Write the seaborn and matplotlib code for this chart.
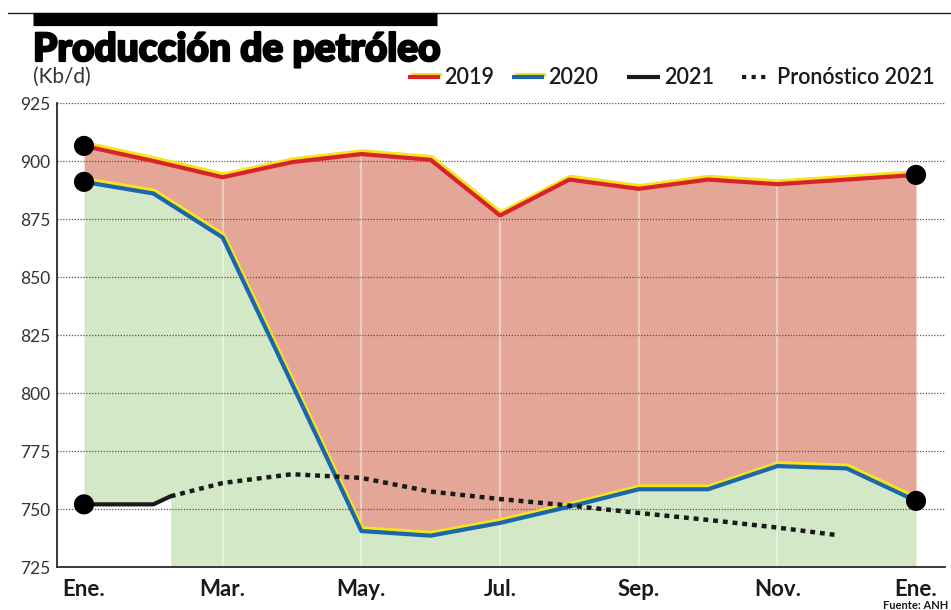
import numpy as np
import matplotlib
matplotlib.use("Agg")
import matplotlib.pyplot as plt
import matplotlib.transforms as mtrans
import matplotlib.patheffects as pe
from matplotlib.lines import Line2D
import seaborn as sns

# ---------------- data ----------------
month_labels = ["Ene.", "Mar.", "May.", "Jul.", "Sep.", "Nov.", "Ene."]
months = list(range(13))
prod_2019 = [906.5, 900.0, 893.0, 899.5, 903.0, 900.5, 876.5, 892.0, 888.0, 892.0, 890.0, 892.0, 894.0]
prod_2020 = [891.0, 886.0, 867.0, 804.0, 740.5, 738.5, 744.0, 751.0, 758.5, 758.5, 768.5, 767.5, 753.5]
months_2021 = [0, 1, 1.25]
prod_2021 = [752.0, 752.0, 755.5]
months_fc = [1.25, 2, 3, 4, 5, 6, 7, 8, 9, 10, 10.85]
forecast_2021 = [755.5, 761.2, 765.0, 763.4, 757.5, 754.3, 751.5, 748.3, 745.3, 742.0, 738.8]
yticks = [725, 750, 775, 800, 825, 850, 875, 900, 925]

# ---------------- style ----------------
sns.set_style("white")
plt.rcParams["font.family"] = ["Lato", "DejaVu Sans"]

RED = "#d8232a"
YELLOW = "#f6e41c"
BLUE = "#1b67ad"
RED_FILL = "#e4a797"
GREEN_FILL = "#d3e8c6"
GRID = "#6e4c42"
INK = "#1a1a1a"

W, H = 951, 610
fig = plt.figure(figsize=(W / 100, H / 100), dpi=100)
fig.patch.set_facecolor("white")

px_per_month = (916 - 84) / 12.0
x_left = (57 - 84) / px_per_month
x_right = 12 + (945 - 916) / px_per_month
ax = fig.add_axes([57 / W, 1 - 567 / H, (945 - 57) / W, (567 - 103) / H])
ax.set_xlim(x_left, x_right)
ax.set_ylim(725, 925)
ax.set_facecolor("none")

# ---------------- fills ----------------
m = np.array(months, dtype=float)
p19 = np.array(prod_2019)
p20 = np.array(prod_2020)
ax.fill_between(m, p20, p19, color=RED_FILL, lw=0, zorder=1)
# green area below 2020: down to the 2021 line at first, then to the axis floor
split = months_2021[-1]
xa = np.array([0, 1, split])
ya20 = np.interp(xa, m, p20)
ax.fill_between(xa, np.array(prod_2021), ya20, color=GREEN_FILL, lw=0, zorder=1)
xb = np.concatenate([[split], m[m > split]])
yb20 = np.interp(xb, m, p20)
ax.fill_between(xb, 725, yb20, color=GREEN_FILL, lw=0, zorder=1)

# faint paper creases at tick positions
for xv in [2, 4, 6, 8, 10]:
    ax.axvline(xv, color="white", lw=1.6, alpha=0.4, zorder=1.5)

# ---------------- grid ----------------
for yv in yticks[1:]:
    ax.axhline(yv, color=GRID, lw=0.9, ls=(0, (1, 1.3)), zorder=2)

# ---------------- lines ----------------
up = mtrans.offset_copy(ax.transData, fig=fig, x=0.6, y=1.8, units="points")
ax.plot(m, p19, color=YELLOW, lw=3.4, transform=up, zorder=3, solid_joinstyle="round")
ax.plot(m, p20, color=YELLOW, lw=3.4, transform=up, zorder=3, solid_joinstyle="round")
sns.lineplot(x=months, y=prod_2019, ax=ax, color=RED, lw=3.0, zorder=4, sort=False)
sns.lineplot(x=months, y=prod_2020, ax=ax, color=BLUE, lw=3.0, zorder=4, sort=False)
sns.lineplot(x=months_fc, y=forecast_2021, ax=ax, color=INK, lw=3.2,
             ls=(0, (1.1, 1.1)), zorder=5, sort=False)
sns.lineplot(x=months_2021, y=prod_2021, ax=ax, color=INK, lw=3.0, zorder=5, sort=False)

dots_x = [months[0], months[0], months_2021[0], months[-1], months[-1]]
dots_y = [prod_2019[0], prod_2020[0], prod_2021[0], prod_2019[-1], prod_2020[-1]]
sns.scatterplot(x=dots_x, y=dots_y, ax=ax, color="black", s=210, edgecolor="none", zorder=6)

# ---------------- axes ----------------
for s in ["top", "right"]:
    ax.spines[s].set_visible(False)
for s in ["left", "bottom"]:
    ax.spines[s].set_color("#2a2a2a")
    ax.spines[s].set_linewidth(1.3)
    ax.spines[s].set_zorder(7)

ax.set_xticks(range(0, 13, 2))
ax.set_xticklabels(month_labels, fontsize=16, fontweight="bold", color=INK)
ax.set_yticks(yticks)
ax.set_yticklabels([str(v) for v in yticks], fontsize=12.5, color="#333333")
ax.tick_params(axis="x", length=9, width=1.3, color="#2a2a2a", direction="out", pad=0)
ax.tick_params(axis="y", length=0, pad=5)
ax.set_xlabel("")
ax.set_ylabel("")

# ---------------- header ----------------
fig.add_artist(Line2D([8 / W, 1], [1 - 13 / H, 1 - 13 / H], color=INK, lw=1.0))
fig.add_artist(Line2D([33 / W, 437 / W], [1 - 18.5 / H, 1 - 18.5 / H], color="black",
                      lw=9.5, solid_capstyle="butt"))
fig.text(33 / W, 1 - 61 / H, "Producción de petróleo", fontsize=28, fontweight="black",
         color="black", va="baseline", ha="left",
         path_effects=[pe.withStroke(linewidth=1.6, foreground="black")])
fig.text(33 / W, 1 - 83 / H, "(Kb/d)", fontsize=15, color="#333333", va="baseline", ha="left")

# legend
ly = 1 - 77 / H
legend_items = [
    (408, 440, RED, "-", "2019", 444, True),
    (512, 544, BLUE, "-", "2020", 548, True),
    (627, 660, INK, "-", "2021", 664, False),
    (742, 770, INK, (0, (1, 1.3)), "Pronóstico 2021", 777, False),
]
for x0, x1, col, ls, label, tx, yel in legend_items:
    if yel:
        fig.add_artist(Line2D([x0 / W + 0.003, x1 / W + 0.002], [ly + 0.004, ly + 0.004],
                              color=YELLOW, lw=3.0, solid_capstyle="butt"))
    fig.add_artist(Line2D([x0 / W, x1 / W], [ly, ly], color=col, lw=3.0, ls=ls,
                          solid_capstyle="butt"))
    fig.text(tx / W, ly, label, fontsize=15.5, fontweight="semibold", color=INK,
             va="center", ha="left")

fig.text(948 / W, 1 - 609 / H, "Fuente: ANH", fontsize=8, fontweight="bold",
         color=INK, va="baseline", ha="right")

fig.savefig("out.png", dpi=100, facecolor="white")
